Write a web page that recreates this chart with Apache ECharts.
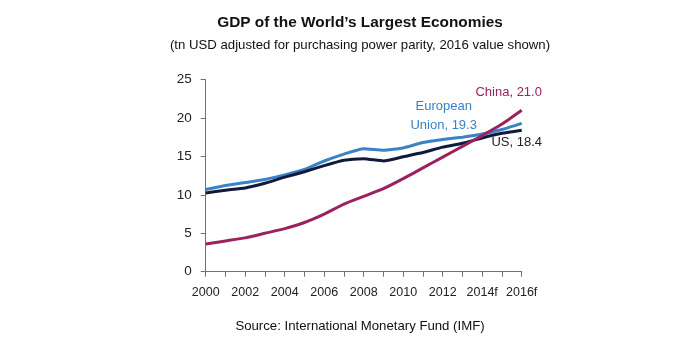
<!DOCTYPE html>
<html>
<head>
<meta charset="utf-8">
<script src="https://cdn.jsdelivr.net/npm/echarts@6/dist/echarts.min.js"></script>
<style>
  html, body { margin: 0; padding: 0; background: #fff; }
  #chart { width: 692px; height: 338px; }
</style>
</head>
<body>
<div id="chart"></div>
<script>
// Years on the x axis (forecast years marked with "f")
const years = ['2000','2001','2002','2003','2004','2005','2006','2007','2008',
               '2009','2010','2011','2012','2013','2014f','2015f','2016f'];

// GDP, tn USD at purchasing power parity
const chinaGdp = [3.6, 4.0, 4.4, 5.0, 5.6, 6.4, 7.5, 8.8, 9.8, 10.8, 12.1, 13.5, 14.9, 16.3, 17.7, 19.2, 21.0];
const euGdp    = [10.7, 11.2, 11.6, 12.0, 12.6, 13.3, 14.4, 15.3, 16.0, 15.8, 16.1, 16.8, 17.2, 17.5, 17.9, 18.5, 19.3];
const usGdp    = [10.25, 10.6, 10.9, 11.5, 12.3, 13.0, 13.8, 14.5, 14.7, 14.4, 14.95, 15.5, 16.2, 16.7, 17.4, 18.0, 18.4];

const yTicks = [0, 5, 10, 15, 20, 25];

const titleText = 'GDP of the World\u2019s Largest Economies';
const subtitleText = '(tn USD adjusted for purchasing power parity, 2016 value shown)';
const sourceText = 'Source: International Monetary Fund (IMF)';

const FONT = '"Liberation Sans", Arial, sans-serif';
const colChina = '#9b2160';
const colEU = '#3a82c6';
const colUS = '#111a3a';
const axisCol = '#707070';

const chart = echarts.init(document.getElementById('chart'));

function last(arr) { return arr[arr.length - 1].toFixed(1); }

function headerText(text, y, size, weight) {
  return {
    type: 'text', x: 360, y: y, silent: true,
    style: {
      text: text, fill: '#111',
      fontFamily: FONT, fontSize: size, fontWeight: weight,
      align: 'center', verticalAlign: 'middle',
      textAlign: 'center', textVerticalAlign: 'middle'
    }
  };
}

chart.setOption({
  animation: false,
  backgroundColor: '#fff',
  textStyle: { fontFamily: FONT },
  graphic: [
    headerText(titleText, 23, 15.4, 'bold'),
    headerText(subtitleText, 45, 13.2, 'normal'),
    headerText(sourceText, 326, 13.2, 'normal')
  ],
  grid: { left: 205.7, right: 170.3, top: 79.5, bottom: 66.3, containLabel: false },
  xAxis: {
    type: 'category',
    data: years,
    boundaryGap: false,
    axisLine: { lineStyle: { color: axisCol, width: 1 } },
    axisTick: { show: true, interval: 0, length: 5, lineStyle: { color: axisCol } },
    axisLabel: { interval: 1, color: '#222', fontSize: 12.5, fontFamily: FONT, margin: 14 },
    splitLine: { show: false }
  },
  yAxis: {
    type: 'value',
    min: yTicks[0], max: yTicks[yTicks.length - 1], interval: 5,
    axisLine: { show: true, lineStyle: { color: axisCol, width: 1 } },
    axisTick: { show: true, length: 5, lineStyle: { color: axisCol } },
    axisLabel: { color: '#222', fontSize: 13.5, fontFamily: FONT, margin: 14 },
    splitLine: { show: false }
  },
  series: [
    {
      name: 'US', type: 'line', data: usGdp, showSymbol: false, smooth: 0.15,
      lineStyle: { color: colUS, width: 3 }, itemStyle: { color: colUS }, z: 3,
      endLabel: {
        show: true, formatter: () => 'US, ' + last(usGdp),
        color: '#222', fontSize: 13, fontFamily: FONT,
        align: 'center', verticalAlign: 'middle', offset: [-13, 12]
      }
    },
    {
      name: 'European Union', type: 'line', data: euGdp, showSymbol: false, smooth: 0.15,
      lineStyle: { color: colEU, width: 3 }, itemStyle: { color: colEU }, z: 2,
      endLabel: {
        show: true, formatter: () => 'European\nUnion, ' + last(euGdp),
        color: colEU, fontSize: 13, fontFamily: FONT, lineHeight: 19,
        align: 'center', verticalAlign: 'middle', offset: [-86, -7]
      }
    },
    {
      name: 'China', type: 'line', data: chinaGdp, showSymbol: false, smooth: 0.15,
      lineStyle: { color: colChina, width: 3 }, itemStyle: { color: colChina }, z: 4,
      endLabel: {
        show: true, formatter: () => 'China, ' + last(chinaGdp),
        color: colChina, fontSize: 13, fontFamily: FONT,
        align: 'center', verticalAlign: 'middle', offset: [-21, -18]
      }
    }
  ]
});
</script>
</body>
</html>
